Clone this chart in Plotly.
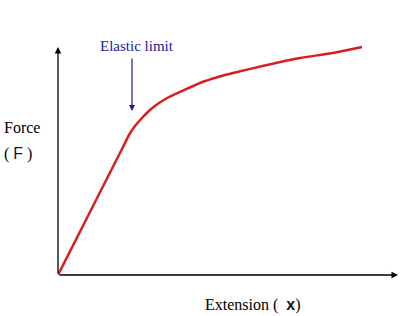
import plotly.graph_objects as go

# Curve data (arbitrary units)
extension = [0, 33, 66, 71, 77, 84, 92, 101, 111, 124, 142, 160, 175, 209, 242, 275, 304]
force = [0, 65, 130, 140, 149, 157, 165, 172, 178, 184, 192, 198, 202, 210, 217, 222, 228]

x_max = 340
y_max = 230
elastic_x = 74
elastic_tip = 164
elastic_tail = 218

serif = "Liberation Serif, Times New Roman, serif"
symbol_style = "font-family:Liberation Sans, Arial, sans-serif;color:#141428"

fig = go.Figure()
fig.add_trace(go.Scatter(
    x=extension, y=force, mode="lines",
    line=dict(color="#d81e1e", width=2.5, shape="spline", smoothing=0.5),
    hoverinfo="skip", showlegend=False,
))

annotations = [
    # y axis arrow
    dict(x=0, y=y_max - 2, ax=0, ay=0, xref="x", yref="y", axref="x", ayref="y",
         showarrow=True, arrowhead=2, arrowsize=1, arrowwidth=1.3, arrowcolor="black", text=""),
    # x axis arrow
    dict(x=x_max, y=0, ax=0, ay=0, xref="x", yref="y", axref="x", ayref="y",
         showarrow=True, arrowhead=2, arrowsize=1, arrowwidth=1.3, arrowcolor="black", text=""),
    # elastic limit arrow
    dict(x=elastic_x, y=elastic_tip, ax=elastic_x, ay=elastic_tail, xref="x", yref="y",
         axref="x", ayref="y", showarrow=True, arrowhead=2, arrowsize=1, arrowwidth=1.2,
         arrowcolor="#1a1a9c", text=""),
    dict(x=elastic_x + 5, y=elastic_tail + 11, xref="x", yref="y", showarrow=False,
         text="Elastic limit", font=dict(family=serif, size=15, color="#1a1a9c"),
         xanchor="center", yanchor="middle"),
    dict(x=-56 / x_max, y=148 / y_max, xref="paper", yref="paper", showarrow=False, text="Force",
         font=dict(family=serif, size=16, color="black"), xanchor="left", yanchor="middle"),
    dict(x=-56 / x_max, y=121 / y_max, xref="paper", yref="paper", showarrow=False,
         text=f"(&nbsp;<span style='{symbol_style}'>F</span>&nbsp;)",
         font=dict(family=serif, size=16, color="black"), xanchor="left", yanchor="middle"),
    dict(x=145 / x_max, y=-30 / y_max, xref="paper", yref="paper", showarrow=False,
         text=f"Extension (&nbsp;&nbsp;<span style='{symbol_style};font-weight:bold'>x</span>)",
         font=dict(family=serif, size=16, color="black"), xanchor="left", yanchor="middle"),
]

fig.update_layout(
    width=407, height=316,
    margin=dict(l=58, r=9, t=45, b=41),
    paper_bgcolor="white", plot_bgcolor="white",
    xaxis=dict(range=[0, x_max], visible=False, fixedrange=True),
    yaxis=dict(range=[0, y_max], visible=False, fixedrange=True),
    annotations=annotations,
    showlegend=False,
)

fig.write_html("out.html")
